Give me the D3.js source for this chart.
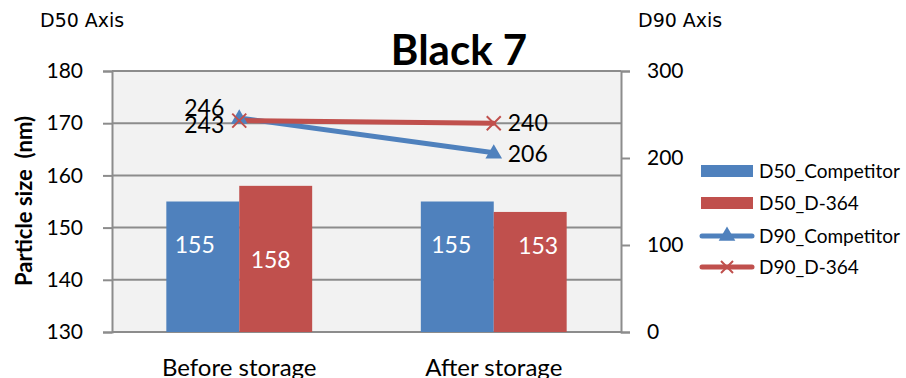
<!DOCTYPE html>
<html>
<head>
<meta charset="utf-8">
<script src="https://cdn.jsdelivr.net/npm/d3@7"></script>
<style>
  html, body { margin: 0; padding: 0; background: #fff; }
  svg { display: block; font-family: Lato, "Open Sans", sans-serif; }
</style>
</head>
<body>
<svg id="chart" width="906" height="378"></svg>
<script>
// Particle size before / after storage for "Black 7"
const categories = ["Before storage", "After storage"];
const d50Series = ["D50_Competitor", "D50_D-364"];
const d90Series = ["D90_Competitor", "D90_D-364"];
const d50Competitor = [155, 155];
const d50D364 = [158, 153];
const d90Competitor = [246, 206];
const d90D364 = [243, 240];
const leftTicks = [130, 140, 150, 160, 170, 180];
const rightTicks = [0, 100, 200, 300];

const blue = "#4F81BD", red = "#C0504D";
const svg = d3.select("#chart");
const plot = { left: 112, right: 621, top: 71, bottom: 332 };

const x = d3.scaleBand().domain(categories).range([plot.left, plot.right]);
const xBar = d3.scaleBand().domain(d50Series).range([0, x.bandwidth()]).paddingOuter(0.745).paddingInner(0);
const yL = d3.scaleLinear().domain([130, 180]).range([plot.bottom, plot.top]);
const yR = d3.scaleLinear().domain([0, 300]).range([plot.bottom, plot.top]);

// plot background
svg.append("rect").attr("x", plot.left).attr("y", plot.top)
  .attr("width", plot.right - plot.left).attr("height", plot.bottom - plot.top)
  .attr("fill", "#F2F2F2");

// left axis with gridlines
const gLeft = svg.append("g").attr("transform", `translate(${plot.left},0)`)
  .call(d3.axisLeft(yL).tickValues(leftTicks).tickSize(9).tickPadding(20));
gLeft.select(".domain").attr("stroke", "#8c8c8c").attr("stroke-width", 2);
gLeft.selectAll(".tick line").attr("stroke", "#8c8c8c").attr("stroke-width", 2);
gLeft.selectAll(".tick text").attr("font-size", 21).attr("fill", "#000")
  .style("font-family", "Lato, sans-serif");
svg.append("g").selectAll("line").data(leftTicks).join("line")
  .attr("x1", plot.left).attr("x2", plot.right)
  .attr("y1", d => yL(d)).attr("y2", d => yL(d))
  .attr("stroke", "#8c8c8c").attr("stroke-width", 2);

// right axis
const gRight = svg.append("g").attr("transform", `translate(${plot.right},0)`)
  .call(d3.axisRight(yR).tickValues(rightTicks).tickSize(9).tickPadding(17));
gRight.select(".domain").attr("stroke", "#8c8c8c").attr("stroke-width", 2);
gRight.selectAll(".tick line").attr("stroke", "#8c8c8c").attr("stroke-width", 2);
gRight.selectAll(".tick text").attr("font-size", 21).attr("fill", "#000")
  .style("font-family", "Lato, sans-serif");

// category axis labels
svg.append("g").selectAll("text").data(categories).join("text")
  .attr("x", d => x(d) + x.bandwidth() / 2).attr("y", 376)
  .attr("text-anchor", "middle").attr("font-size", 24).text(d => d);

// bars
const barRows = categories.map((c, i) => ({ c, vals: [d50Competitor[i], d50D364[i]] }));
const barColors = d3.scaleOrdinal().domain(d50Series).range([blue, red]);
const groups = svg.append("g").selectAll("g").data(barRows).join("g")
  .attr("transform", d => `translate(${x(d.c)},0)`);
groups.selectAll("rect").data(d => d.vals.map((v, k) => ({ s: d50Series[k], v })))
  .join("rect")
  .attr("x", d => xBar(d.s)).attr("width", xBar.bandwidth())
  .attr("y", d => yL(d.v)).attr("height", d => yL(130) - yL(d.v))
  .attr("fill", d => barColors(d.s));
// bar value labels (white, inside the bar)
const barLabelAt = [[146.7, 143.8], [146.7, 146.5]];
const barLabelDx = [[-8, -5], [-6, 8]];
groups.each(function (d, i) {
  d3.select(this).selectAll("text").data(d.vals.map((v, k) => ({ s: d50Series[k], v, k })))
    .join("text")
    .attr("x", e => xBar(e.s) + xBar.bandwidth() / 2 + barLabelDx[i][e.k])
    .attr("y", e => yL(barLabelAt[i][e.k]))
    .attr("dy", "0.35em").attr("text-anchor", "middle")
    .attr("font-size", 23).attr("fill", "#fff").text(e => e.v);
});

// D90 lines on the right axis
const cx = c => x(c) + x.bandwidth() / 2;
const line = d3.line().x((v, i) => cx(categories[i])).y(v => yR(v));
svg.append("path").datum(d90Competitor).attr("d", line)
  .attr("fill", "none").attr("stroke", blue).attr("stroke-width", 5).attr("stroke-linecap", "round");
svg.append("path").datum(d90D364).attr("d", line)
  .attr("fill", "none").attr("stroke", red).attr("stroke-width", 5).attr("stroke-linecap", "round");

const tri = d3.symbol().type(d3.symbolTriangle).size(120);
function cross(g, cxv, cyv, r) {
  g.append("path").attr("d", `M${cxv - r},${cyv - r}L${cxv + r},${cyv + r}M${cxv - r},${cyv + r}L${cxv + r},${cyv - r}`)
    .attr("stroke", red).attr("stroke-width", 2).attr("fill", "none");
}
const marks = svg.append("g");
d90Competitor.forEach((v, i) => {
  marks.append("path").attr("d", tri).attr("fill", blue)
    .attr("transform", `translate(${cx(categories[i])},${yR(v) + 1})`);
});
d90D364.forEach((v, i) => cross(marks, cx(categories[i]), yR(v), 7));

// D90 value labels
const lbl = svg.append("g").attr("font-size", 23).attr("fill", "#000");
lbl.append("text").attr("x", cx(categories[0]) - 15).attr("y", yR(d90Competitor[0]) - 10)
  .attr("dy", "0.35em").attr("text-anchor", "end").text(d90Competitor[0]);
lbl.append("text").attr("x", cx(categories[0]) - 15).attr("y", yR(d90D364[0]) + 4)
  .attr("dy", "0.35em").attr("text-anchor", "end").text(d90D364[0]);
lbl.append("text").attr("x", cx(categories[1]) + 14).attr("y", yR(d90D364[1]))
  .attr("dy", "0.35em").text(d90D364[1]);
lbl.append("text").attr("x", cx(categories[1]) + 14).attr("y", yR(d90Competitor[1]) + 1)
  .attr("dy", "0.35em").text(d90Competitor[1]);

// titles
svg.append("text").attr("x", 459).attr("y", 65).attr("text-anchor", "middle")
  .attr("font-size", 42).attr("font-weight", "bold").text("Black 7");
svg.append("text").attr("x", 40).attr("y", 27).attr("font-size", 19)
  .style("font-family", "'DejaVu Sans', sans-serif").text("D50 Axis");
svg.append("text").attr("x", 638).attr("y", 27).attr("font-size", 19)
  .style("font-family", "'DejaVu Sans', sans-serif").text("D90 Axis");
svg.append("text").attr("transform", "translate(32,201) rotate(-90)")
  .attr("text-anchor", "middle").attr("font-size", 22).attr("font-weight", "bold")
  .attr("xml:space", "preserve").style("white-space", "pre")
  .text("Particle size  (nm)");

// legend
const legend = svg.append("g");
const legendY = [171, 203, 236, 267];
d50Series.forEach((s, i) => {
  legend.append("rect").attr("x", 701).attr("y", legendY[i] - 6).attr("width", 52).attr("height", 12)
    .attr("fill", barColors(s));
});
d90Series.forEach((s, i) => {
  const yy = legendY[i + 2], col = i === 0 ? blue : red;
  legend.append("line").attr("x1", 702).attr("x2", 752).attr("y1", yy).attr("y2", yy)
    .attr("stroke", col).attr("stroke-width", 5).attr("stroke-linecap", "round");
  if (i === 0) legend.append("path").attr("d", tri).attr("fill", blue)
    .attr("transform", `translate(727,${yy})`);
  else cross(legend, 727, yy, 6);
});
legend.selectAll("text").data(d50Series.concat(d90Series)).join("text")
  .attr("x", 759).attr("y", (d, i) => legendY[i]).attr("dy", "0.35em")
  .attr("font-size", 19).text(d => d);
</script>
</body>
</html>
